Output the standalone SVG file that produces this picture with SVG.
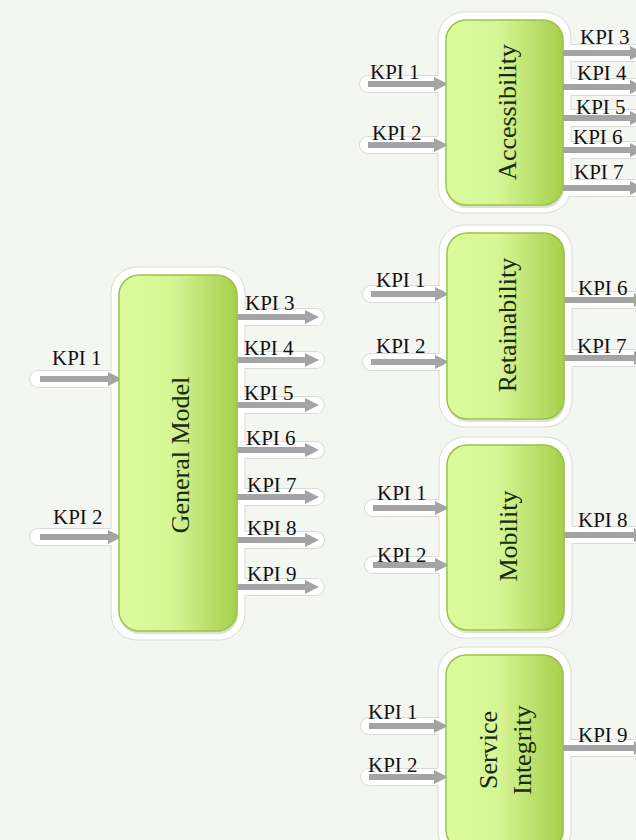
<svg xmlns="http://www.w3.org/2000/svg" width="636" height="840" viewBox="0 0 636 840">
<style>
.bg{fill:#f4f6f2}
.halo-o{stroke:#d9dbd6;stroke-width:18;stroke-linecap:round;fill:none}
.halo-i{stroke:#ffffff;stroke-width:16;stroke-linecap:round;fill:none}
.bhalo{fill:#ffffff;stroke:#d9dbd6;stroke-width:1}
.box{fill:url(#g);stroke:#9cc24a;stroke-width:1.5}
.shadow{fill:#9aa88a;opacity:0.35}
.arr{stroke:#a4a4a4;stroke-width:6;fill:none;marker-end:url(#ah)}
.lbl{font-family:"Liberation Serif","Times New Roman",serif;font-size:21px;fill:#111}
.nt{font-family:"Liberation Serif","Times New Roman",serif;font-size:26px;fill:#1a2a10;text-anchor:middle}
</style>
<defs>
<linearGradient id="g" x1="0" y1="0" x2="1" y2="0">
<stop offset="0" stop-color="#dcfb9c"/>
<stop offset="0.45" stop-color="#d6f594"/>
<stop offset="1" stop-color="#a6cf4c"/>
</linearGradient>
<marker id="ah" markerUnits="userSpaceOnUse" markerWidth="14" markerHeight="14" refX="6" refY="7" orient="auto" viewBox="0 0 14 14">
<path d="M0,0 L14,7 L0,14 z" fill="#a4a4a4"/>
</marker>
</defs>
<rect class="bg" x="0" y="0" width="636" height="840"/>
<g id="halos">
<g class="halo-o">
<path d="M38,379H118M38,537H118M239,317H316M239,360H316M239,405H316M239,450H316M239,497H316M239,540H316M239,587H316"/>
<path d="M368,84H444M368,145H444M565,53H640M565,87H640M565,118H640M565,150H640M565,188H640"/>
<path d="M371,294H445M371,362H445M566,300H640M566,358H640"/>
<path d="M373,508H445M373,565H445M566,535H640"/>
<path d="M369,726H444M369,777H444M565,748H640"/>
</g>
<g class="halo-i">
<path d="M38,379H118M38,537H118M239,317H316M239,360H316M239,405H316M239,450H316M239,497H316M239,540H316M239,587H316"/>
<path d="M368,84H444M368,145H444M565,53H640M565,87H640M565,118H640M565,150H640M565,188H640"/>
<path d="M371,294H445M371,362H445M566,300H640M566,358H640"/>
<path d="M373,508H445M373,565H445M566,535H640"/>
<path d="M369,726H444M369,777H444M565,748H640"/>
</g>
<rect class="bhalo" x="111" y="267" width="134" height="373" rx="26"/>
<rect class="bhalo" x="438" y="12" width="133" height="201" rx="26"/>
<rect class="bhalo" x="439" y="225" width="133" height="202" rx="26"/>
<rect class="bhalo" x="439" y="437" width="133" height="201" rx="26"/>
<rect class="bhalo" x="438" y="647" width="133" height="210" rx="26"/>
<g class="halo-i">
<path d="M100,379H125M100,537H125M230,317H250M230,360H250M230,405H250M230,450H250M230,497H250M230,540H250M230,587H250"/>
<path d="M430,84H452M430,145H452M556,53H578M556,87H578M556,118H578M556,150H578M556,188H578"/>
<path d="M430,294H452M430,362H452M557,300H578M557,358H578"/>
<path d="M430,508H452M430,565H452M557,535H578"/>
<path d="M430,726H452M430,777H452M556,748H578"/>
</g>
</g>
<g id="connectors">
<path class="arr" d="M40,379H114"/>
<path class="arr" d="M40,537H114"/>
<path class="arr" d="M237,317H311"/>
<path class="arr" d="M237,360H311"/>
<path class="arr" d="M237,405H311"/>
<path class="arr" d="M237,450H311"/>
<path class="arr" d="M237,497H311"/>
<path class="arr" d="M237,540H311"/>
<path class="arr" d="M237,587H311"/>
<path class="arr" d="M368,84H440"/>
<path class="arr" d="M368,145H440"/>
<path class="arr" d="M563,53H636"/>
<path class="arr" d="M563,87H636"/>
<path class="arr" d="M563,118H636"/>
<path class="arr" d="M563,150H636"/>
<path class="arr" d="M563,188H636"/>
<path class="arr" d="M371,294H441"/>
<path class="arr" d="M371,362H441"/>
<path class="arr" d="M564,300H640"/>
<path class="arr" d="M564,358H640"/>
<path class="arr" d="M373,508H441"/>
<path class="arr" d="M373,565H441"/>
<path class="arr" d="M564,535H640"/>
<path class="arr" d="M369,726H440"/>
<path class="arr" d="M369,777H440"/>
<path class="arr" d="M563,748H640"/>
</g>
<g id="general-model">
<rect class="shadow" x="120" y="278" width="118" height="356" rx="20"/>
<rect class="box" x="119" y="275" width="118" height="356" rx="20"/>
<text class="nt" x="180" y="464" transform="rotate(-90 180 455)">General Model</text>
</g>
<g id="accessibility">
<rect class="shadow" x="447" y="23" width="117" height="185" rx="20"/>
<rect class="box" x="446" y="20" width="117" height="185" rx="20"/>
<text class="nt" x="507" y="121" transform="rotate(-90 507 112)">Accessibility</text>
</g>
<g id="retainability">
<rect class="shadow" x="448" y="236" width="117" height="186" rx="20"/>
<rect class="box" x="447" y="233" width="117" height="186" rx="20"/>
<text class="nt" x="507" y="334" transform="rotate(-90 507 325)">Retainability</text>
</g>
<g id="mobility">
<rect class="shadow" x="448" y="448" width="117" height="185" rx="20"/>
<rect class="box" x="447" y="445" width="117" height="185" rx="20"/>
<text class="nt" x="508" y="545" transform="rotate(-90 508 536)">Mobility</text>
</g>
<g id="service-integrity">
<rect class="shadow" x="447" y="658" width="117" height="195" rx="20"/>
<rect class="box" x="446" y="655" width="117" height="195" rx="20"/>
<text class="nt" x="488" y="759" transform="rotate(-90 488 750)">Service</text>
<text class="nt" x="522" y="759" transform="rotate(-90 522 750)">Integrity</text>
</g>
<g id="labels">
<text class="lbl" x="52" y="365">KPI 1</text>
<text class="lbl" x="53" y="524">KPI 2</text>
<text class="lbl" x="245" y="310">KPI 3</text>
<text class="lbl" x="244" y="355">KPI 4</text>
<text class="lbl" x="244" y="400">KPI 5</text>
<text class="lbl" x="246" y="445">KPI 6</text>
<text class="lbl" x="247" y="492">KPI 7</text>
<text class="lbl" x="247" y="535">KPI 8</text>
<text class="lbl" x="247" y="581">KPI 9</text>
<text class="lbl" x="370" y="79">KPI 1</text>
<text class="lbl" x="372" y="140">KPI 2</text>
<text class="lbl" x="580" y="44">KPI 3</text>
<text class="lbl" x="577" y="80">KPI 4</text>
<text class="lbl" x="576" y="114">KPI 5</text>
<text class="lbl" x="573" y="144">KPI 6</text>
<text class="lbl" x="574" y="179">KPI 7</text>
<text class="lbl" x="376" y="287">KPI 1</text>
<text class="lbl" x="376" y="353">KPI 2</text>
<text class="lbl" x="578" y="295">KPI 6</text>
<text class="lbl" x="577" y="353">KPI 7</text>
<text class="lbl" x="377" y="500">KPI 1</text>
<text class="lbl" x="377" y="562">KPI 2</text>
<text class="lbl" x="578" y="527">KPI 8</text>
<text class="lbl" x="368" y="719">KPI 1</text>
<text class="lbl" x="368" y="772">KPI 2</text>
<text class="lbl" x="578" y="742">KPI 9</text>
</g>
</svg>
